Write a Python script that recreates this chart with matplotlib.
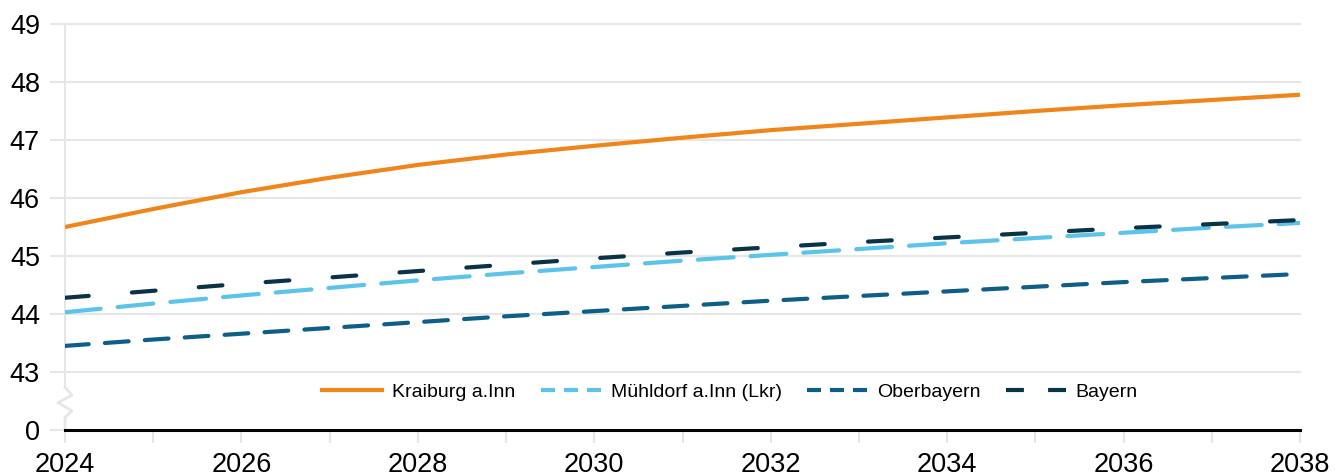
import numpy as np
import matplotlib.pyplot as plt
import matplotlib.transforms as mtransforms
from matplotlib.lines import Line2D

plt.rcParams['font.family'] = ['Liberation Sans', 'DejaVu Sans']

# data
years = list(range(2024, 2039))
kraiburg = [45.50, 45.81, 46.10, 46.35, 46.57, 46.75, 46.90, 47.04, 47.17, 47.28, 47.39, 47.50, 47.60, 47.69, 47.78]
muehldorf = [44.03, 44.18, 44.32, 44.45, 44.58, 44.70, 44.81, 44.92, 45.02, 45.12, 45.22, 45.31, 45.40, 45.49, 45.57]
oberbayern = [43.45, 43.56, 43.66, 43.76, 43.86, 43.96, 44.05, 44.14, 44.23, 44.31, 44.39, 44.47, 44.55, 44.62, 44.69]
bayern = [44.28, 44.40, 44.52, 44.63, 44.74, 44.85, 44.96, 45.06, 45.15, 45.24, 45.32, 45.40, 45.48, 45.55, 45.62]

names = ["Kraiburg a.Inn", "Mühldorf a.Inn (Lkr)", "Oberbayern", "Bayern"]
colors = ["#f0861a", "#5cc4ea", "#0d5f87", "#0b3347"]

# y axis is broken: "0" sits where 42 would be
y_ticks = [42, 43, 44, 45, 46, 47, 48, 49]
y_labels = ["0", "43", "44", "45", "46", "47", "48", "49"]
x_labels = [str(y) if y % 2 == 0 else "" for y in years]

W, H = 1335, 476
fig = plt.figure(figsize=(W / 100, H / 100), dpi=100)
ax = fig.add_axes([65 / W, 1 - 430 / H, 1235 / W, 406 / H])

grid_col = "#e6e6e6"

ax.plot(years, kraiburg, color=colors[0], lw=3, solid_capstyle="butt", zorder=5)
ax.plot(years, muehldorf, color=colors[1], lw=3, dashes=(8.6, 4.1), dash_capstyle="round", zorder=4)
ax.plot(years, oberbayern, color=colors[2], lw=3, dashes=(5.7, 3.9), dash_capstyle="round", zorder=4)
ax.plot(years, bayern, color=colors[3], lw=3, dashes=(5.7, 10.4), dash_capstyle="round", zorder=4)

ax.set_xlim(2024, 2038)
ax.set_ylim(42, 49)
ax.set_yticks(y_ticks)
ax.set_yticklabels(y_labels)
ax.set_xticks(years)
ax.set_xticklabels(x_labels)

ax.grid(axis="y", color=grid_col, lw=1.5)
for gl in ax.yaxis.get_gridlines():
    gl.set_clip_on(False)
ax.set_axisbelow(True)

ax.tick_params(axis="y", length=11, width=1.5, color=grid_col, pad=7, labelsize=19.5)
ax.tick_params(axis="x", length=9.5, width=1.5, color=grid_col, pad=6, labelsize=19.5)

for s in ["top", "right", "left"]:
    ax.spines[s].set_visible(False)
ax.spines["bottom"].set_color("black")
ax.spines["bottom"].set_linewidth(2.2)
ax.spines["bottom"].set_zorder(6)

# left spine with zigzag break
trans = mtransforms.blended_transform_factory(ax.transAxes, ax.transData)
dx = 7 / 1235
ax.plot([0, 0], [42.74, 49], color=grid_col, lw=1.5, transform=trans, clip_on=False, zorder=1)
ax.plot([0, dx, -dx, dx, 0, 0], [42.74, 42.60, 42.47, 42.33, 42.22, 42.0],
        color=grid_col, lw=2, transform=trans, clip_on=False, zorder=1)

# legend handles
handles = [
    Line2D([], [], color=colors[0], lw=3),
    Line2D([], [], color=colors[1], lw=3, dashes=(3.36, 2.16)),
    Line2D([], [], color=colors[2], lw=3, dashes=(3.36, 2.16)),
    Line2D([], [], color=colors[3], lw=3, dashes=(4.3, 5.8)),
]
ax.legend(handles, names, loc="center", bbox_to_anchor=((730 - 65) / 1235, (430 - 392) / 406),
          ncol=4, frameon=False, fontsize=14, handlelength=3.1,
          handletextpad=0.5, columnspacing=1.3)

fig.savefig("out.png", dpi=100)
